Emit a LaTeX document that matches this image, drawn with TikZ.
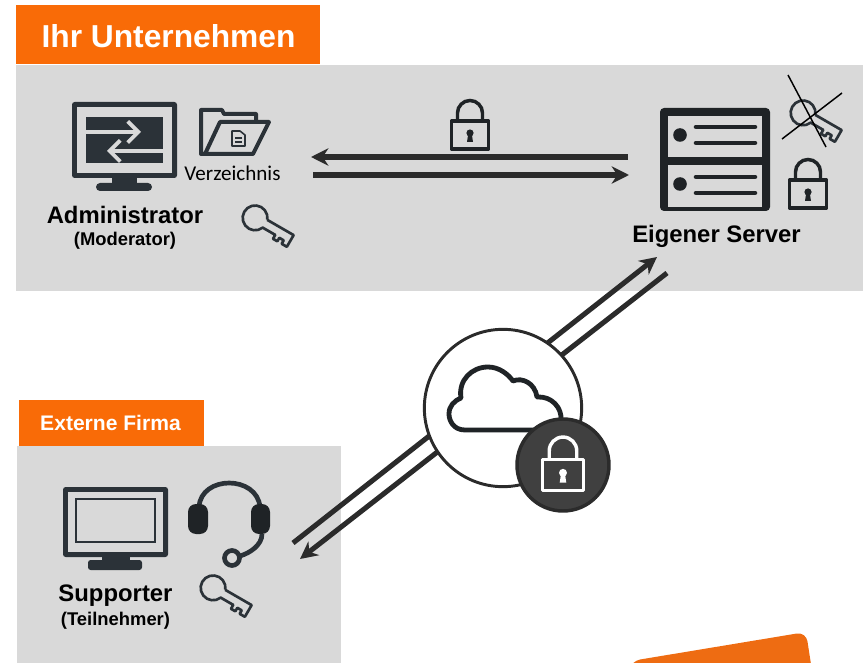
\documentclass[tikz,border=0pt]{standalone}
\usepackage{fontspec}
\setmainfont{Liberation Sans}
\newfontfamily\carlitofont{Carlito}
\usetikzlibrary{arrows.meta}
\definecolor{brandorange}{HTML}{F96B07}
\definecolor{stickerorange}{HTML}{EE6C12}
\definecolor{panelgrey}{HTML}{D9D9D9}
\definecolor{icondark}{HTML}{2B3238}
\definecolor{serverdark}{HTML}{1F2326}
\definecolor{linedark}{HTML}{2B2B2B}
\definecolor{lockgrey}{HTML}{404040}
\tikzset{
    panel/.style={fill=panelgrey, draw=none},
    headbox/.style={fill=brandorange, draw=none},
    bigname/.style={font=\bfseries\fontsize{17.9}{21}\selectfont, text=black, inner sep=0pt},
    subname/.style={font=\bfseries\fontsize{13.8}{16}\selectfont, text=black, inner sep=0pt},
    wire/.style={line width=3.8, draw=linedark, -{Stealth[length=13, width=13]}},
    pics/keyicon/.style={code={
        \draw[line width=2, draw=icondark, line join=round]
            (11.5,-4.5) -- (42,-4.5) -- (42,9) -- (36,9) -- (36,5) -- (31,5) -- (31,9)
            -- (26,9) -- (26,4.5) -- (11.5,4.5) arc (22:338:12.4);
    }},
    pics/padlock/.style={code={
        \draw[line width=2.6, draw=#1, line join=round] (-18.5,-14) rectangle (18.5,14);
        \draw[line width=2.6, draw=#1] (-12.5,-14) -- (-12.5,-22) arc (180:360:12.5) -- (12.5,-14);
        \fill[#1] (0,-2) circle (3.6);
        \fill[#1] (-1.8,-1) -- (1.8,-1) -- (3,7) -- (-3,7) -- cycle;
    }},
    pics/padlock/.default=serverdark
}
\begin{document}
\begin{tikzpicture}[x=0.75pt, y=-0.75pt]
    \useasboundingbox (0,0) rectangle (865,663);
    \clip (0,0) rectangle (865,663);

    % Panels and headers
    \fill[panel] (16,65) rectangle (863,291);
    \fill[panel] (17,446) rectangle (341,663);
    \fill[headbox] (16,5) rectangle (320,64);
    \fill[headbox] (19,400) rectangle (204,446);
    \node[font=\bfseries\fontsize{23.8}{28}\selectfont, text=white, inner sep=0pt] (firmtitle) at (168.5,36) {Ihr Unternehmen};
    \node[font=\bfseries\fontsize{15.8}{19}\selectfont, text=white, inner sep=0pt] (externtitle) at (110.5,423) {Externe Firma};

    % Sticker corner
    \fill[stickerorange, rounded corners=7] (625,685) -- (631,661) -- (806,632) -- (815,690) -- cycle;

    % Connector ends
    \coordinate (adminin) at (311,157);
    \coordinate (adminout) at (313,175);
    \coordinate (serverout) at (628,157);
    \coordinate (serverin) at (629,175);
    \coordinate (cloudup) at (657,257);
    \coordinate (cloudfrom) at (293,543);
    \coordinate (clouddown) at (300,559);
    \coordinate (serverfrom) at (667,273);

    % Connectors
    \draw[wire] (serverout) -- (adminin);
    \draw[wire] (adminout) -- (serverin);
    \draw[wire] (cloudfrom) -- (cloudup);
    \draw[wire] (serverfrom) -- (clouddown);

    % Cloud
    \node[circle, draw=linedark, fill=white, line width=2.2, minimum size=118, inner sep=0pt] (cloudring) at (503,408) {};
    \draw[line width=3.6, draw=serverdark, line join=round]
        (465,430) .. controls (453,430) and (449,420) .. (449,414)
        .. controls (449,406) and (454,401) .. (461,398)
        .. controls (458,380) and (472,367) .. (488,367)
        .. controls (499,367) and (508,374) .. (513,381)
        .. controls (522,377) and (535,383) .. (537,397)
        .. controls (552,396) and (562,408) .. (561,420)
        -- (545,430) -- cycle;
    \node[circle, draw=linedark, fill=lockgrey, line width=2.6, minimum size=69, inner sep=0pt] (lockring) at (563,465) {};
    \pic[scale=1.1] at (563,475) {padlock=white};

    % Administrator monitor
    \fill[icondark, rounded corners=2] (72,102) rectangle (177,178);
    \fill[panelgrey] (77,107) rectangle (172,173);
    \fill[icondark] (86,117) rectangle (163,163);
    \draw[line width=2.8, draw=panelgrey, -{Straight Barb[length=8, width=16]}] (86,132) -- (141,132);
    \draw[line width=2.8, draw=panelgrey, -{Straight Barb[length=8, width=16]}] (163,151) -- (107,151);
    \fill[icondark] (112,178) rectangle (137,186);
    \fill[icondark, rounded corners=3] (96,191) rectangle (152,183);

    % Folder
    \draw[line width=3, draw=icondark, line join=round] (205,154) -- (201,154) -- (201,110) -- (222,110) -- (224,114) -- (256,114) -- (256,121);
    \draw[line width=3, draw=icondark, line join=round] (220,122) -- (269,122) -- (253,154) -- (205,154) -- cycle;
    \draw[line width=1.2, draw=icondark, line join=round] (232,131) -- (240,131) -- (245,135) -- (245,146) -- (232,146) -- cycle;
    \draw[line width=1.2, draw=icondark] (235,138) -- (242,138) (235,142) -- (242,142);

    % Server
    \fill[serverdark, rounded corners=3] (660,108) rectangle (770,211);
    \foreach \top/\bottom/\dotline/\upline/\lowline in {116/157/135/127/143, 165/207/184/177/193} {
        \fill[panelgrey] (668,\top) rectangle (762,\bottom);
        \fill[serverdark] (680,\dotline) circle (6.8);
        \draw[line width=3.4, draw=serverdark, line cap=round] (696,\upline) -- (755,\upline);
        \draw[line width=3.4, draw=serverdark, line cap=round] (696,\lowline) -- (755,\lowline);
    }

    % Keys and locks
    \pic[rotate=-30] at (255,218) {keyicon};
    \pic[rotate=-30] at (213,588) {keyicon};
    \pic[rotate=-30] at (803,113) {keyicon};
    \coordinate (crossa) at (788,75);
    \coordinate (crossb) at (826,147);
    \coordinate (crossc) at (782,139);
    \coordinate (crossd) at (842,93);
    \draw[line width=1.1, black] (crossa) -- (crossb);
    \draw[line width=1.1, black] (crossc) -- (crossd);
    \pic at (470,135) {padlock};
    \pic at (808,194) {padlock};

    % Supporter monitor
    \fill[icondark, rounded corners=2] (63,487) rectangle (168,557);
    \fill[panelgrey] (68,492) rectangle (163,552);
    \draw[line width=1.8, draw=icondark] (76,499) rectangle (155,542);
    \fill[icondark] (102,557) rectangle (130,565);
    \fill[icondark, rounded corners=2] (88,570) rectangle (142,560);

    % Headset
    \draw[line width=3.5, draw=icondark] (199,507) .. controls (201,475) and (257,475) .. (260,507);
    \fill[serverdark, rounded corners=6] (188,504) rectangle (208,534);
    \fill[serverdark, rounded corners=6] (251,504) rectangle (270,534);
    \draw[line width=3.5, draw=icondark] (262,534) .. controls (262,545) and (250,553) .. (240,556);
    \draw[line width=3.5, draw=icondark] (232,558) circle (7.5);

    % Labels
    \node[bigname] (adminname) at (125,214.5) {Administrator};
    \node[subname] (adminrole) at (125,241) {(Moderator)};
    \node[font=\carlitofont\fontsize{15.8}{19}\selectfont, inner sep=0pt] (dirname) at (232.5,173) {Verzeichnis};
    \node[bigname] (servername) at (716.5,236) {Eigener Server};
    \node[bigname] (supportname) at (115.5,595.5) {Supporter};
    \node[subname] (supportrole) at (115.5,621) {(Teilnehmer)};
\end{tikzpicture}
\end{document}
